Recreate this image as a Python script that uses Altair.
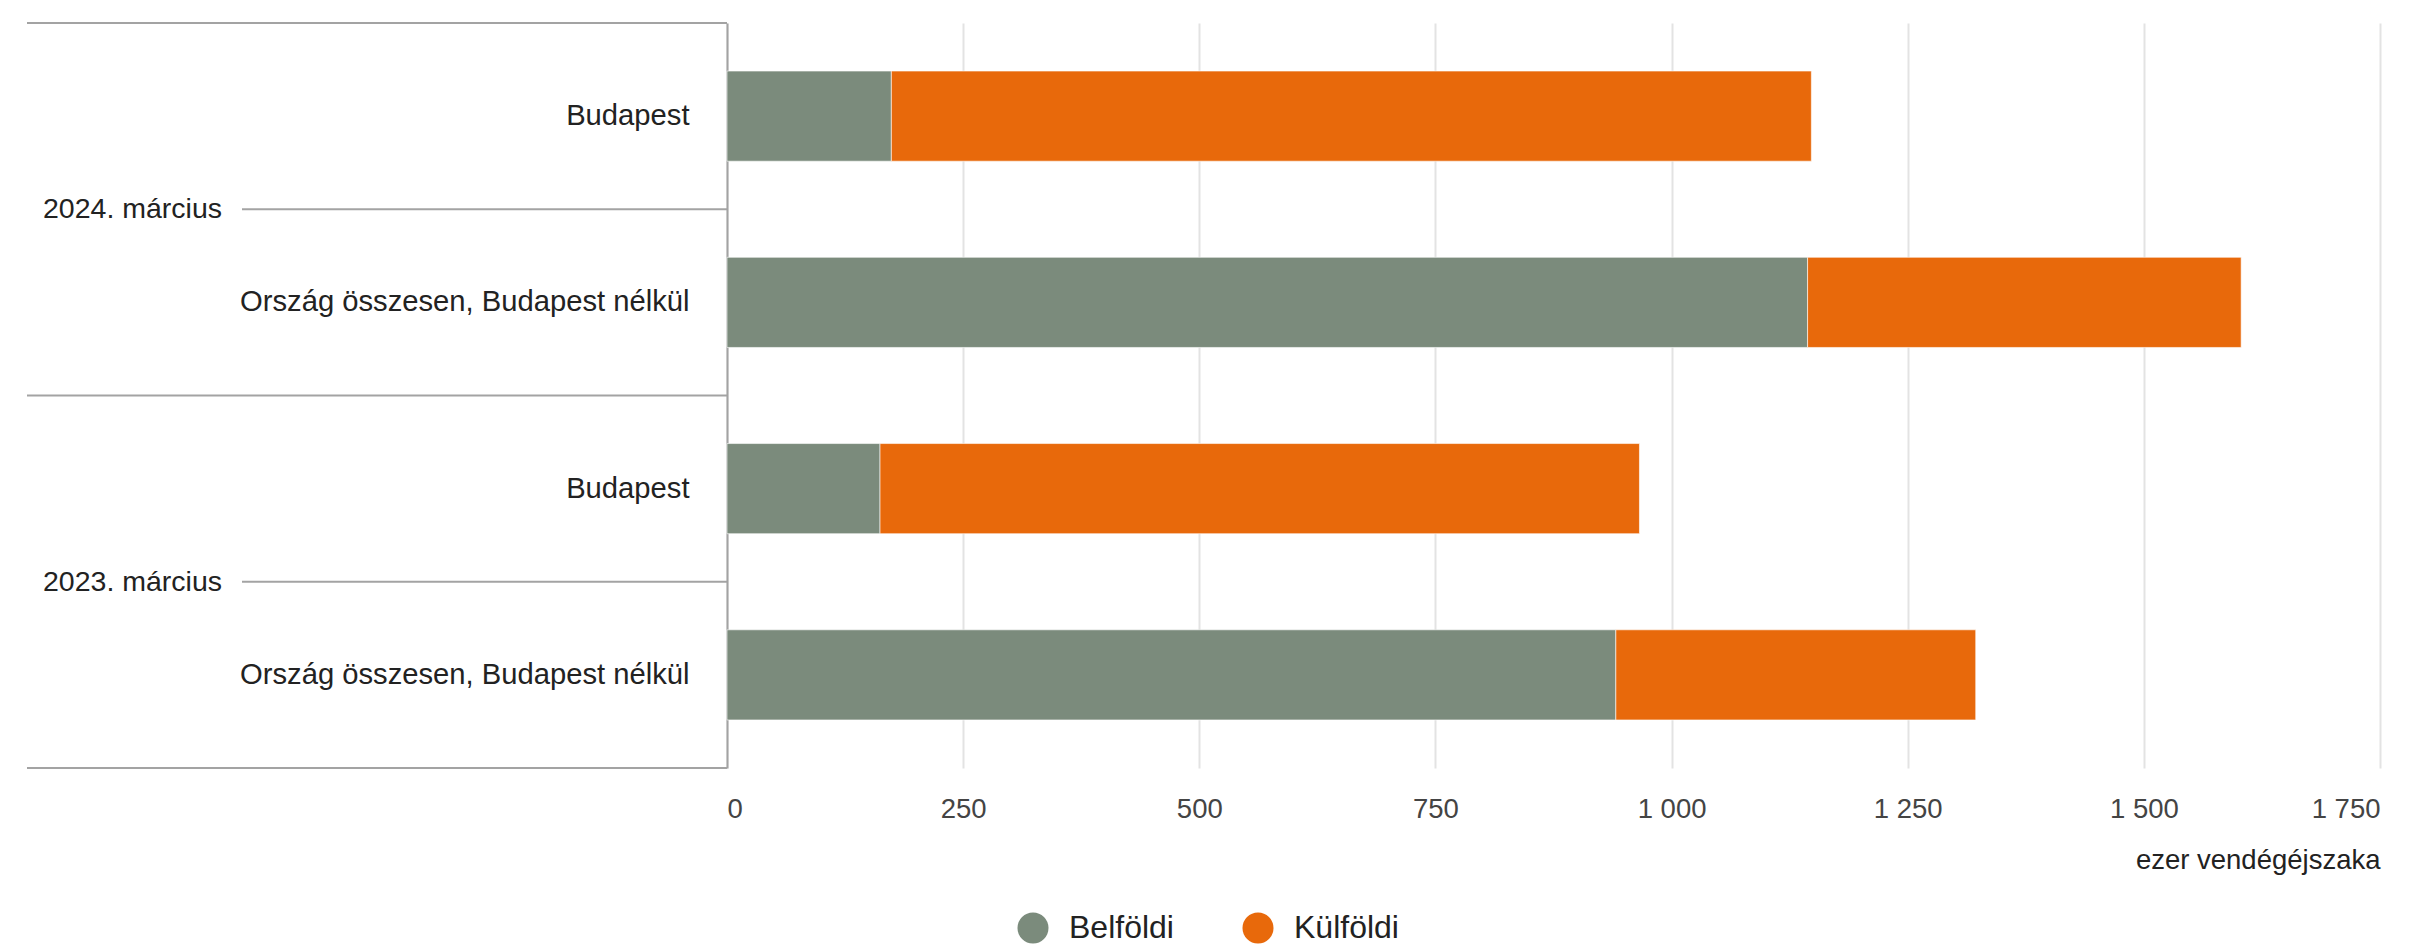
import altair as alt
import pandas as pd

# ---- data ----
groups = ["2024. március", "2024. március", "2023. március", "2023. március"]
regions = ["Budapest", "Ország összesen, Budapest nélkül",
           "Budapest", "Ország összesen, Budapest nélkül"]
belfoldi = [174, 1144, 162, 941]
kulfoldi = [974, 459, 804, 381]
series = ["Belföldi", "Külföldi"]
colors = ["#7b8b7c", "#e8690b"]
x_ticks = [0, 250, 500, 750, 1000, 1250, 1500, 1750]
x_title = "ezer vendégéjszaka"

FONT = "Liberation Sans"
FS = 28.5

keys = [f"{g}|{r}" for g, r in zip(groups, regions)]
rows = []
for i, k in enumerate(keys):
    rows.append({"key": k, "series": series[0], "value": belfoldi[i], "ord": 0})
    rows.append({"key": k, "series": series[1], "value": kulfoldi[i], "ord": 1})
df = pd.DataFrame(rows)

uniq_groups = list(dict.fromkeys(groups))
first_keys = [keys[groups.index(g)] for g in uniq_groups]
second_keys = [keys[groups.index(g) + 1] for g in uniq_groups]
top_df = pd.DataFrame({"key": first_keys})
mid_df = pd.DataFrame({"key": second_keys, "group": uniq_groups})
bot_df = pd.DataFrame({"key": [keys[-1]]})

yscale = alt.Scale(domain=keys, paddingInner=0, paddingOuter=0)
y_axis = alt.Axis(labelExpr="split(datum.value, '|')[1]", labelPadding=38,
                  ticks=False, tickSize=0, domain=True, domainColor="#a3a3a3",
                  domainWidth=2, labelFontSize=29.2, labelColor="#222222",
                  labelFont=FONT, grid=False, labelLimit=700, title=None)


def yenc(band_pos=0.5):
    return alt.Y("key:N", scale=yscale, sort=keys, title=None, axis=y_axis,
                 bandPosition=band_pos)


bars = alt.Chart(df).mark_bar(height={"band": 0.484}, stroke="white", strokeWidth=0.6).encode(
    y=alt.Y("key:N", scale=yscale, sort=keys, title=None, axis=y_axis),
    x=alt.X("value:Q", stack="zero",
            scale=alt.Scale(domain=[0, 1750], nice=False, zero=True),
            axis=alt.Axis(values=x_ticks,
                          labelExpr="replace(format(datum.value, ','), ',', ' ')",
                          title=x_title, titleAnchor="end", titleFontWeight="normal",
                          titleFontSize=FS - 1, titleColor="#222222", titleFont=FONT,
                          titlePadding=24, labelPadding=27, ticks=False, tickSize=0,
                          domain=False, labelFontSize=FS - 1, labelColor="#444444",
                          labelFont=FONT, gridColor="#e3e3e3", gridWidth=2)),
    color=alt.Color("series:N", scale=alt.Scale(domain=series, range=colors),
                    legend=alt.Legend(orient="none", legendX=290, legendY=889,
                                      direction="horizontal", title=None,
                                      symbolType="circle", symbolSize=961,
                                      symbolStrokeWidth=0, labelFontSize=32,
                                      labelOffset=20, columnPadding=68,
                                      labelColor="#222222", labelFont=FONT)),
    order=alt.Order("ord:Q"),
)

top_rules = alt.Chart(top_df).mark_rule(color="#a3a3a3", strokeWidth=2).encode(
    y=yenc(0), x=alt.value(-700), x2=alt.value(0),
)
bot_rules = alt.Chart(bot_df).mark_rule(color="#a3a3a3", strokeWidth=2).encode(
    y=yenc(1), x=alt.value(-700), x2=alt.value(0),
)
mid_rules = alt.Chart(mid_df).mark_rule(color="#a3a3a3", strokeWidth=2).encode(
    y=yenc(0), x=alt.value(-485), x2=alt.value(0),
)
group_text = alt.Chart(mid_df).mark_text(
    align="left", baseline="middle", font=FONT, fontSize=FS, color="#222222"
).encode(
    y=yenc(0), x=alt.value(-684), text="group:N",
)

chart = alt.layer(bars, top_rules, bot_rules, mid_rules, group_text).properties(
    width=1653, height=745,
    autosize=alt.AutoSizeParams(type="none"),
    padding={"left": 719, "top": 15, "right": 24, "bottom": 176},
).configure(font=FONT).configure_view(stroke=None)

chart.save("out.html", embed_options={"renderer": "svg", "actions": False})
